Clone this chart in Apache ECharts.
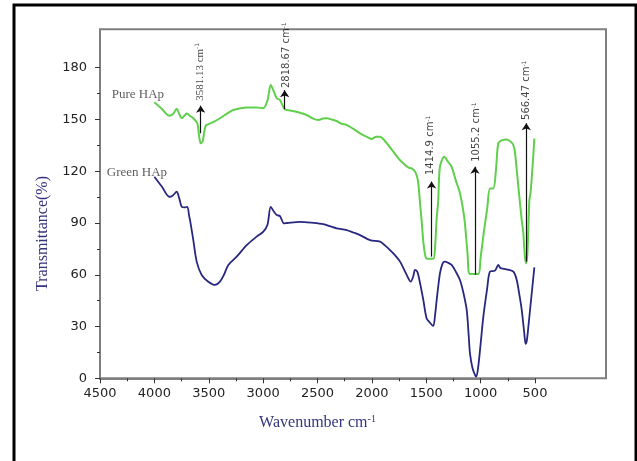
<!DOCTYPE html>
<html>
<head>
<meta charset="utf-8">
<script src="https://cdn.jsdelivr.net/npm/echarts@6/dist/echarts.min.js"></script>
<style>
  html, body { margin: 0; padding: 0; background: #fff; }
  #chart { width: 637px; height: 461px; }
</style>
</head>
<body>
<div id="chart"></div>
<script>
// FTIR spectra, [wavenumber, transmittance]
const pureHAp = [
  [4000, 160], [3930, 156], [3863, 152.2], [3830, 153], [3795, 156.2], [3770, 153],
  [3749, 150.7], [3720, 152.5], [3703, 153.5], [3670, 152], [3642, 150.7], [3605, 147.8],
  [3590, 141], [3574, 136.2], [3555, 137.5], [3544, 142], [3530, 146], [3519, 146.8],
  [3460, 148.5], [3397, 150.7], [3330, 153.5], [3274, 155.5], [3151, 157], [3060, 157],
  [3000, 156.5], [2960, 161], [2930, 170], [2900, 166], [2875, 162.3], [2845, 161.3],
  [2802, 155.9], [2750, 155.2], [2692, 154.5], [2599, 152.6], [2540, 150.5], [2493, 149.7],
  [2450, 150.5], [2415, 150.7], [2370, 150], [2324, 149.1], [2280, 147.5], [2232, 146.8],
  [2170, 144.5], [2109, 142], [2050, 140], [2002, 138.7], [1960, 140], [1925, 140],
  [1880, 137.5], [1803, 131.3], [1750, 127], [1711, 124.6], [1660, 122], [1634, 121.7],
  [1603, 119.7], [1585, 117], [1573, 113], [1555, 100], [1543, 91.7], [1525, 78],
  [1505, 70], [1490, 69.3], [1436, 69.3], [1420, 75], [1405, 92], [1390, 103],
  [1374, 122.6], [1334, 128.4], [1300, 125.5], [1267, 122.6], [1230, 115], [1190, 107.2],
  [1150, 93], [1120, 72], [1098, 60.4], [1022, 60.4], [1000, 70], [970, 85],
  [940, 98], [914, 110], [883, 110], [859, 120.7], [837, 136.2], [800, 138],
  [760, 138.4], [720, 137], [699, 135.2], [683, 130.4], [653, 111], [622, 91.7],
  [607, 84], [595, 72], [583, 66.6], [570, 72], [552, 103], [540, 108],
  [520, 125], [506, 139]
];
const greenHAp = [
  [4000, 116.8], [3930, 111], [3862, 105.2], [3830, 106], [3795, 108.1], [3770, 104],
  [3749, 99.4], [3720, 99], [3697, 99.4], [3680, 94], [3672, 91.7], [3642, 80.1],
  [3611, 67.6], [3565, 59.9], [3504, 56], [3442, 54.1], [3397, 56], [3360, 60],
  [3320, 65.7], [3243, 70.5], [3151, 77.2], [3059, 82.1], [2998, 85], [2960, 89],
  [2930, 99.4], [2900, 96.5], [2875, 94.6], [2845, 94], [2808, 89.8], [2780, 90],
  [2661, 90.7], [2550, 90.2], [2447, 89.4], [2380, 88], [2324, 86.9], [2232, 85.9],
  [2170, 84.5], [2109, 83], [2017, 80.1], [1925, 79.2], [1880, 77], [1833, 74.3],
  [1790, 71.5], [1741, 67.6], [1680, 59.9], [1643, 56], [1620, 59], [1603, 62.8],
  [1585, 62], [1573, 59.9], [1550, 53], [1527, 45.4], [1497, 34.8], [1470, 32.5],
  [1436, 30.3], [1420, 36], [1404, 45.4], [1374, 60.8], [1350, 66.5], [1328, 67.6],
  [1300, 67], [1267, 65.7], [1230, 62], [1190, 57], [1160, 50], [1128, 39.6],
  [1110, 25], [1098, 14.5], [1075, 6], [1052, 2], [1040, 1], [1022, 6.7],
  [1000, 20], [975, 35.7], [940, 52], [914, 61.8], [868, 62.4], [837, 65.7],
  [820, 64], [807, 63.7], [750, 63], [699, 61.8], [668, 57], [640, 47],
  [622, 39.6], [600, 27], [586, 19.9], [575, 22], [561, 29.9], [545, 40],
  [530, 49.3], [506, 64.3]
];

// peak annotations
const peakText = ['3581.13', '2818.67', '1414.9', '1055.2', '566.47'];
const arrowX = [3574, 2802, 1451, 1052, 580];
const arrowFrom = [142, 156, 70.5, 60, 67.6];
const arrowTo = [158, 167, 114, 122.6, 147.8];
const peakLabelAt = [[3580, 160.8], [2784, 168.2], [1459, 117.8], [1036, 125.5], [577, 149.7]];

const seriesNames = ['Pure HAp', 'Green HAp'];
const seriesNameAt = [[4392, 164.2], [4438, 119.1]];

const serif = '"Liberation Serif", "Times New Roman", serif';
const sans = '"DejaVu Sans", sans-serif';
const navy = '#34347e';
const axisGray = '#7f7f7f';

const chart = echarts.init(document.getElementById('chart'), null, { renderer: 'canvas' });

const arrows = arrowX.map((x, i) => [
  { coord: [x, arrowFrom[i]] },
  { coord: [x, arrowTo[i]] }
]);

chart.setOption({
  animation: false,
  backgroundColor: '#fff',
  grid: { left: 100, right: 102, top: 67.7, bottom: 82.7 },
  graphic: [
    {
      type: 'rect', z: 0, silent: true,
      shape: { x: 14, y: 5, width: 622, height: 480 },
      style: { fill: 'none', stroke: '#000', lineWidth: 3 }
    },
    {
      type: 'rect', z: 0, silent: true,
      shape: { x: 100, y: 29.3, width: 506, height: 349 },
      style: { fill: 'none', stroke: axisGray, lineWidth: 2 }
    }
  ],
  xAxis: {
    type: 'value',
    inverse: true,
    min: 500,
    max: 4500,
    interval: 500,
    splitLine: { show: false },
    axisLine: { lineStyle: { color: axisGray, width: 2 } },
    axisTick: { length: 5, lineStyle: { color: '#333', width: 1 } },
    minorTick: { show: true, splitNumber: 2, length: 3, lineStyle: { color: '#333' } },
    axisLabel: { margin: 9, color: '#222', fontFamily: sans, fontSize: 13, formatter: (v) => String(v) },
    name: 'Wavenumber cm{s|-1}',
    nameLocation: 'middle',
    nameGap: 36,
    nameTextStyle: {
      color: navy, fontFamily: serif, fontSize: 16,
      rich: { s: { color: navy, fontFamily: serif, fontSize: 10, verticalAlign: 'top' } }
    }
  },
  yAxis: {
    type: 'value',
    min: 0,
    max: 180,
    interval: 30,
    splitLine: { show: false },
    axisLine: { show: true, lineStyle: { color: axisGray, width: 2 } },
    axisTick: { show: true, length: 5, lineStyle: { color: '#333', width: 1 } },
    minorTick: { show: true, splitNumber: 2, length: 3, lineStyle: { color: '#333' } },
    axisLabel: { margin: 13, color: '#222', fontFamily: sans, fontSize: 13 },
    name: 'Transmittance(%)',
    nameLocation: 'middle',
    nameGap: 46,
    nameTextStyle: { color: navy, fontFamily: serif, fontSize: 16, padding: [0, 21, 0, 0] }
  },
  series: [
    {
      name: seriesNames[0],
      type: 'line',
      data: pureHAp,
      showSymbol: false,
      smooth: 0.3,
      lineStyle: { color: '#5fcf4c', width: 2 },
      markLine: {
        silent: true,
        symbol: ['none', 'arrow'],
        symbolSize: 7,
        label: { show: false },
        lineStyle: { color: '#111', width: 1.2, type: 'solid' },
        data: arrows
      }
    },
    {
      name: seriesNames[1],
      type: 'line',
      data: greenHAp,
      showSymbol: false,
      smooth: 0.3,
      lineStyle: { color: '#27277f', width: 1.8 }
    },
    {
      type: 'scatter',
      symbolSize: 0,
      silent: true,
      data: peakLabelAt,
      label: {
        show: true,
        position: 'inside',
        rotate: 90,
        align: 'left',
        verticalAlign: 'middle',
        formatter: (p) => {
          const k = p.dataIndex === 0 ? 'f' : 'n';
          return `{${k}|${peakText[p.dataIndex]} cm}{s|-1}`;
        },
        rich: {
          n: { fontFamily: sans, fontSize: 10, color: '#111' },
          f: { fontFamily: serif, fontSize: 11, color: '#111' },
          s: { fontFamily: sans, fontSize: 6, color: '#111', verticalAlign: 'top' }
        }
      }
    },
    {
      type: 'scatter',
      symbolSize: 0,
      silent: true,
      data: seriesNameAt,
      label: {
        show: true,
        position: 'inside',
        align: 'left',
        verticalAlign: 'middle',
        formatter: (p) => seriesNames[p.dataIndex],
        fontFamily: serif,
        fontSize: 13,
        color: '#333'
      }
    }
  ]
});
</script>
</body>
</html>
